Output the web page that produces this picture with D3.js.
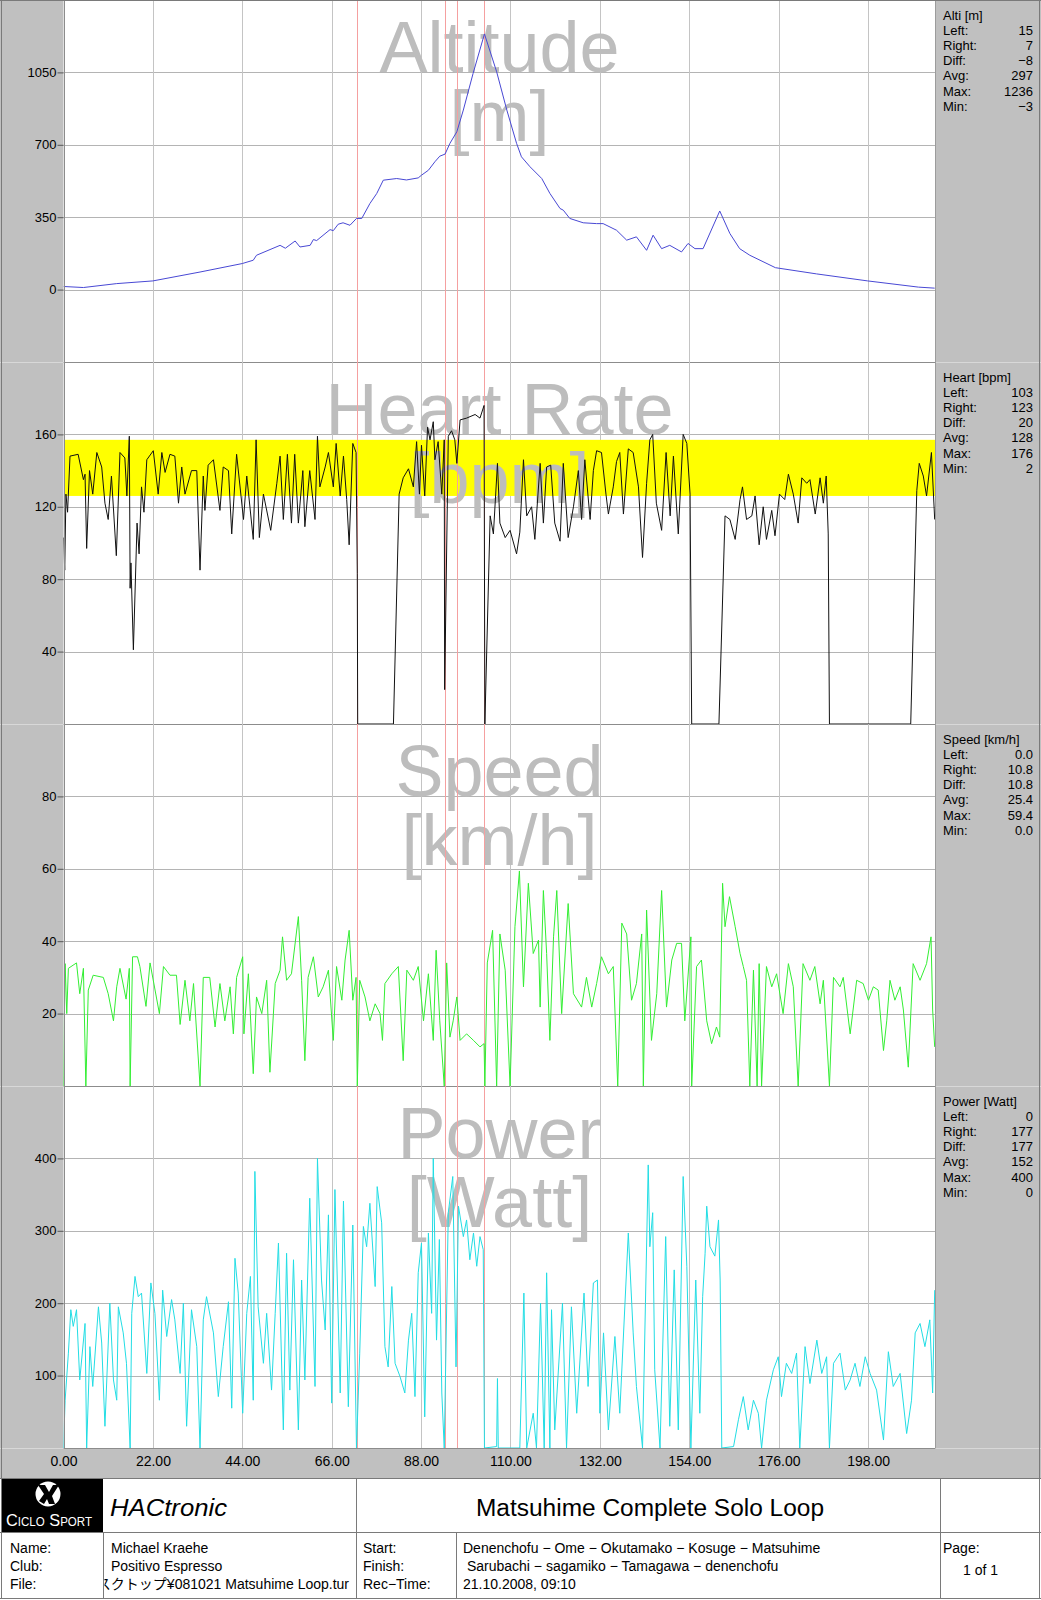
<!DOCTYPE html>
<html>
<head>
<meta charset="utf-8">
<script src="https://cdn.jsdelivr.net/npm/d3@7"></script>
<style>
  html, body { margin: 0; padding: 0; background: #fff; }
  svg { display: block; }
</style>
</head>
<body>
<script>
const width = 1041;
const height = 1600;
const plotLeft = 63.5;
const plotRight = 935.5;
const panelH = 362;
const font = '"Liberation Sans", Arial, "Noto Sans CJK JP", sans-serif';

// ---- data (km, value) ----
const distTicks = [0, 22, 44, 66, 88, 110, 132, 154, 176, 198];
const lapKm = [72.3, 93.9, 96.9, 103.6];

const altitude = [[0,15],[4.9,10],[13.1,29],[22,42],[33.6,85],[44,126],[46.7,142],[47.5,166],[53.3,214],[54.6,200],[57,235],[58.2,206],[60.7,214],[61.5,242],[62.3,237],[65.6,290],[66.4,285],[67.6,316],[68.8,323],[70.5,311],[72.1,344],[73.4,344],[75.4,416],[77.1,465],[78.7,529],[82,537],[84.4,530],[87.3,540],[88.1,553],[89.8,577],[91.4,618],[92.6,645],[93.9,655],[95.1,707],[96.8,763],[98.4,868],[100.8,1045],[103.6,1236],[106.6,1053],[109.1,868],[111.5,707],[112.7,642],[114.8,594],[117.7,537],[119.7,465],[122.2,392],[123,384],[124.6,344],[127.9,323],[131.2,319],[132.8,319],[136.1,287],[138.6,239],[141,255],[143.5,190],[145.1,263],[147.2,198],[149.2,214],[152.1,182],[153.7,223],[155.4,198],[157.4,198],[161.5,380],[164,271],[166.4,198],[168.9,166],[175.2,106],[185.3,76],[197.9,42],[210.4,12],[214.4,7]];

const heartRate = [[0,103],[0.3,85],[0.6,127],[1,117],[1.6,148],[3.6,149],[4.9,135],[5.3,138],[5.7,97],[6.4,140],[7.2,127],[8.2,150],[9.4,142],[10.2,122],[11,113],[11.8,137],[13,93],[13.9,150],[15.1,147],[15.6,126],[16.2,159],[16.4,75],[16.6,89],[17.2,41],[18.1,111],[18.6,94],[19.2,131],[19.8,117],[20.5,146],[22.1,151],[23.3,127],[24.2,150],[25,139],[26.2,149],[27.4,148],[28.3,122],[29.1,142],[29.9,127],[31.5,140],[32.8,140],[33.6,85],[34.4,137],[34.8,118],[35.6,143],[36.9,146],[38.5,118],[39.3,142],[40.6,140],[41.4,105],[42.6,149],[44.3,113],[45.1,137],[46.7,102],[47.4,157],[48.2,103],[49.2,127],[51,107],[52.5,133],[53.3,148],[54.1,113],[55.1,149],[56.1,111],[56.9,149],[57.8,111],[58.9,140],[59.4,109],[60.6,140],[61.9,113],[62.5,159],[63.1,131],[64.4,142],[65.2,150],[66.4,131],[67.1,155],[68.1,126],[68.9,148],[69.7,124],[70.3,99],[71.2,155],[72,150],[72.3,83],[72.4,0],[81.2,0],[82.6,127],[83.6,136],[84.9,141],[86.1,131],[86.9,156],[87.6,127],[88.1,154],[88.9,126],[89.6,164],[90.2,157],[91,167],[91.4,146],[92.2,156],[93.1,127],[93.7,157],[93.8,19],[94.7,159],[95.5,162],[96.3,157],[96.8,144],[97.6,168],[99.2,169],[101.3,171],[102.5,169],[103.5,176],[103.7,0],[105,115],[105.8,105],[106.8,144],[107.4,111],[108.7,103],[109.9,107],[111.5,94],[112.3,106],[113.2,146],[114,115],[115.2,120],[116,102],[117.3,144],[118.1,111],[118.9,142],[119.9,143],[120.9,111],[122.2,101],[123,144],[124.2,103],[125.5,120],[126.7,140],[127.5,113],[128.3,146],[129.6,113],[130.4,140],[131.2,151],[132.4,150],[133.5,127],[134.1,116],[135.3,131],[136.1,145],[136.9,150],[137.8,116],[139,152],[140.2,150],[141.5,131],[142.5,92],[143.5,133],[144.3,157],[145,160],[145.9,122],[147.2,107],[148.3,150],[149.3,115],[150.1,148],[151.3,105],[152.5,160],[153.4,155],[154.2,127],[154.6,0],[161.3,0],[162.8,115],[164,113],[165.3,102],[166.5,124],[167.1,131],[168.1,113],[169.4,115],[170.2,126],[171.2,99],[172.2,120],[173,102],[174.3,118],[175.1,104],[176.2,127],[177.5,124],[178.4,138],[179.6,127],[180.8,111],[181.7,136],[182.9,133],[183.7,135],[185,116],[186.2,136],[187,122],[187.7,137],[188.2,105],[188.5,0],[208.5,0],[210,129],[210.6,144],[211.6,137],[212.4,126],[213.6,150],[214.4,113]];

const speed = [[0,0],[0.4,33.8],[0.8,20],[1.2,32.5],[3.2,34],[4,25.5],[4.9,32.5],[5.5,0],[6.1,26.5],[7.3,30.6],[9.8,30],[11,25.5],[12.3,18],[13.1,27.4],[13.9,32.5],[15.4,24],[16.2,32.5],[16.4,0],[17,35.7],[18.2,35.7],[18.8,33],[20.3,22],[21.3,34],[23.6,20],[24.6,33],[26.2,30.6],[27.8,30.6],[28.7,17],[29.9,29.2],[31.1,18],[32,28.3],[33.6,0],[34.4,30],[36,30],[37.3,16.3],[38.5,28.3],[39.7,18],[41,27.4],[41.8,14.4],[42.6,30],[44.1,35.7],[44.4,14.4],[45.5,31],[46.7,3.4],[47.5,24.6],[48.8,20],[50,29.2],[50.8,3.8],[52.1,28.3],[53.3,32],[53.9,41.2],[54.9,29.2],[56.1,31],[57.8,46.8],[58.6,29.2],[59.4,7],[60.2,30],[61.5,35.7],[62.7,24.6],[63.9,27.4],[65.2,32],[66.4,12.6],[67.2,33],[68.5,23.7],[69.3,34.8],[70.3,43],[71.2,23.7],[72,30],[72.3,0],[72.9,29.2],[74.2,24.6],[75.4,18],[76.7,22.7],[77.9,20],[78.5,12.6],[79.1,28.3],[80.8,31],[82.4,33],[83.6,7],[84.5,32],[86.1,29.2],[87.3,33],[88.6,18],[89.8,31],[91,12.6],[91.7,37.5],[92.6,18],[93.7,0],[94.3,34],[95.1,13.5],[95.9,18],[96.8,24.6],[97.6,12.6],[99.2,14.4],[100.9,12.6],[102.5,10.8],[103.5,11.7],[103.7,0],[104.3,34],[105.6,43],[106.6,0],[107.4,42],[108.7,32],[109.9,0],[111.1,44],[112.2,59.4],[113.2,27.4],[114.4,56],[115.6,36.6],[116.9,40.3],[117.3,21.8],[118.1,54],[118.9,36.6],[119.7,12.6],[120.6,41.2],[121.4,54],[122.6,20],[124.2,50.4],[125.5,25.5],[127.5,21.8],[128.7,30],[130,21.8],[131.2,28.3],[132.4,35.7],[134.1,31],[135.3,33],[136.4,0],[137.4,45],[138.6,42],[139.8,23.7],[141,28.3],[142.3,42],[142.7,0],[143.5,48.6],[144.7,12.6],[146,25.5],[147.2,54],[148.4,21.8],[149.7,34.8],[150.9,39.4],[152.1,39.4],[152.9,18],[154.4,41.2],[154.6,0],[155.8,33],[157,34.8],[158.3,18],[159.5,11.7],[160.7,16.3],[161.5,13.5],[162.2,56],[162.8,44],[163.9,52.3],[165.3,44],[166.5,36.6],[167.3,33],[168.1,29.2],[168.9,0],[169.8,32],[170.7,0],[171.2,33.8],[171.8,0],[173,33],[174.3,27.4],[175.5,31],[177.1,20],[178.4,33.8],[179.6,27.4],[180.8,0],[182,33.8],[183.7,29.2],[184.9,33],[186.2,22.7],[187,29.2],[188.5,0],[189.5,30],[191.1,27.4],[191.9,30],[193.6,14.4],[195.2,29.2],[196.8,28.3],[198.1,23.7],[199.3,27.4],[200.5,26.5],[201.8,9.8],[202.6,18],[203.4,29.2],[204.6,23.7],[205.9,27.4],[206.7,21],[207.9,5.2],[209.1,33.8],[210.8,29.2],[212.4,33.8],[213.5,41.2],[213.9,21],[214.4,10.8]];

const power = [[0,0],[0.4,66],[1.2,131],[1.8,191],[2.4,168],[3.2,191],[4,94],[5.3,172],[5.7,0],[6.5,140],[7.2,85],[8.6,195],[9.4,145],[10.2,30],[11.4,200],[12.3,94],[13.1,66],[13.5,195],[14.7,159],[15.5,117],[16.4,0],[16.8,186],[17.6,237],[18.4,209],[19.2,214],[20.5,103],[21.5,228],[22.5,186],[23.6,66],[24.4,218],[25.4,154],[26.6,205],[27.4,177],[28.7,103],[29.5,200],[30.3,30],[31.5,191],[32.8,140],[33.6,0],[34.4,177],[35.2,209],[36.9,159],[38.1,71],[39.3,140],[40.6,202],[41.4,55],[42.2,262],[43,214],[44.1,48],[45.1,186],[46,237],[46.7,66],[47.1,382],[47.9,195],[49.2,117],[50,186],[51.2,80],[52.1,186],[52.9,283],[54.1,25],[54.9,269],[55.7,80],[56.6,260],[57.8,25],[58.6,232],[59.4,94],[60.6,345],[61.9,85],[62.5,400],[63.5,232],[64.4,163],[65.2,322],[66,62],[66.8,357],[68.1,76],[68.9,341],[70.1,57],[71.2,308],[72.1,0],[72.9,131],[73.8,306],[74.6,278],[75.4,338],[76.7,223],[77.2,361],[78.3,311],[79.1,140],[79.9,112],[80.8,223],[81.6,117],[82.8,99],[84,76],[84.9,149],[85.7,186],[86.5,71],[87.3,242],[88.1,283],[88.9,43],[89.8,297],[90.6,186],[91,400],[91.8,149],[92.5,288],[93.1,76],[93.7,0],[94.7,325],[95.8,375],[96.6,112],[97.2,334],[98.4,292],[99.2,315],[100,260],[100.9,297],[101.7,251],[102.5,292],[103.3,274],[103.6,0],[106.6,2],[106.8,96],[107,0],[112.3,0],[113.3,214],[114,0],[115.6,48],[116.4,0],[117.4,200],[118.3,0],[118.9,242],[119.7,0],[120.1,191],[120.9,25],[122.8,200],[123.8,0],[125,195],[126.3,48],[128.1,214],[129.1,85],[130.4,228],[131.4,232],[132,48],[132.9,159],[134.1,25],[135.7,154],[136.9,48],[139,297],[140.2,159],[141,85],[142.5,0],[143.9,391],[144.3,278],[145,325],[145.5,108],[146.8,0],[148.2,292],[149.2,30],[150.3,246],[151.3,25],[152.5,375],[153.4,251],[154.4,0],[155.6,232],[156.6,48],[157.3,209],[157.9,269],[158.3,334],[159.1,278],[160.3,265],[161.2,315],[161.6,232],[162,0],[164.9,2],[166.1,39],[167.3,71],[168.5,25],[169.8,66],[171,48],[171.8,0],[173,66],[174.7,108],[175.9,126],[176.7,71],[177.9,117],[179.2,103],[180.4,131],[181.2,0],[182.5,140],[183.7,89],[185.4,149],[186.6,103],[187.8,126],[188.5,0],[189.5,117],[191.1,131],[192.4,80],[193.6,94],[194.8,117],[196,85],[197.3,126],[198.5,103],[200.1,80],[201.8,11],[203,133],[204.2,85],[205.9,103],[207.5,20],[208.7,66],[209.6,159],[210.8,172],[212,140],[213.2,177],[213.9,76],[214.4,218]];

const altTicks = [0, 350, 700, 1050];
const hrTicks = [40, 80, 120, 160];
const speedTicks = [20, 40, 60, 80];
const powerTicks = [100, 200, 300, 400];
const hrZone = [126, 157];

const statLabels = ['Left:', 'Right:', 'Diff:', 'Avg:', 'Max:', 'Min:'];
const altStats = ['15', '7', '−8', '297', '1236', '−3'];
const hrStats = ['103', '123', '20', '128', '176', '2'];
const speedStats = ['0.0', '10.8', '10.8', '25.4', '59.4', '0.0'];
const powerStats = ['0', '177', '177', '152', '400', '0'];

const infoLabels = ['Name:', 'Club:', 'File:'];
const infoValues = ['Michael Kraehe', 'Positivo Espresso', 'デスクトップ¥081021 Matsuhime Loop.tur'];
const routeLabels = ['Start:', 'Finish:', 'Rec−Time:'];
const routeValues = ['Denenchofu − Ome − Okutamako − Kosuge − Matsuhime', ' Sarubachi − sagamiko − Tamagawa − denenchofu', '21.10.2008, 09:10'];
const tourTitle = 'Matsuhime Complete Solo Loop';

// ---- chart ----
const panels = [
  { title: 'Altitude', unit: '[m]', head: 'Alti [m]', data: altitude, domain: [-350, 1400], ticks: altTicks, color: '#4848d4', stats: altStats },
  { title: 'Heart Rate', unit: '[bpm]', head: 'Heart [bpm]', data: heartRate, domain: [0, 200], ticks: hrTicks, color: '#111', stats: hrStats, zone: hrZone },
  { title: 'Speed', unit: '[km/h]', head: 'Speed [km/h]', data: speed, domain: [0, 100], ticks: speedTicks, color: '#33ee33', stats: speedStats },
  { title: 'Power', unit: '[Watt]', head: 'Power [Watt]', data: power, domain: [0, 500], ticks: powerTicks, color: '#22dde4', stats: powerStats }
];

const x = d3.scaleLinear().domain([0, 214.6]).range([plotLeft, plotRight]);
const bottomPlot = panels.length * panelH;
const bandBottom = bottomPlot + 30;

const svg = d3.select('body').append('svg')
  .attr('width', width)
  .attr('height', height)
  .attr('font-family', font);

svg.append('rect').attr('width', width).attr('height', height).attr('fill', '#fff');

// gray side panels + x axis band
svg.append('rect').attr('x', 0).attr('y', 0).attr('width', plotLeft).attr('height', bandBottom).attr('fill', '#c0c0c0');
svg.append('rect').attr('x', plotRight).attr('y', 0).attr('width', width - plotRight).attr('height', bandBottom).attr('fill', '#c0c0c0');
svg.append('rect').attr('x', 0).attr('y', bottomPlot).attr('width', width).attr('height', 30).attr('fill', '#c0c0c0');

const px = v => Math.round(v) + 0.5;
const defs = svg.append('defs');

panels.forEach((p, i) => {
  const top = i * panelH;
  const bottom = top + panelH;
  const y = d3.scaleLinear().domain(p.domain).range([bottom, top]);
  const g = svg.append('g');

  defs.append('clipPath').attr('id', `clip${i}`)
    .append('rect').attr('x', plotLeft).attr('y', top).attr('width', plotRight - plotLeft).attr('height', panelH);

  g.selectAll('line.h').data(p.ticks).join('line')
    .attr('x1', plotLeft).attr('x2', plotRight)
    .attr('y1', d => px(y(d))).attr('y2', d => px(y(d)))
    .attr('stroke', '#b4b4b4');

  g.selectAll('line.v').data(distTicks.slice(1)).join('line')
    .attr('x1', d => px(x(d))).attr('x2', d => px(x(d)))
    .attr('y1', top).attr('y2', bottom)
    .attr('stroke', '#c4c4c4');

  if (p.zone) {
    g.append('rect')
      .attr('x', plotLeft + 0.5).attr('width', plotRight - plotLeft - 0.5)
      .attr('y', y(p.zone[1])).attr('height', y(p.zone[0]) - y(p.zone[1]))
      .attr('fill', '#ffff00');
  }

  // big grey watermark, two lines in one text block
  const mid = (plotLeft + plotRight) / 2;
  const wm = g.append('text')
    .attr('text-anchor', 'middle').attr('font-size', 72).attr('fill', '#bdbdbd');
  wm.append('tspan').attr('x', mid).attr('y', top + 72).text(p.title);
  wm.append('tspan').attr('x', mid).attr('y', top + 141).text(p.unit);

  g.selectAll('line.lap').data(lapKm).join('line')
    .attr('x1', d => px(x(d))).attr('x2', d => px(x(d)))
    .attr('y1', top).attr('y2', bottom)
    .attr('stroke', '#f5a0a0');

  const line = d3.line()
    .x(d => x(d[0]))
    .y(d => y(d[1]));

  g.append('path')
    .datum(p.data)
    .attr('clip-path', `url(#clip${i})`)
    .attr('fill', 'none')
    .attr('stroke', p.color)
    .attr('stroke-width', 1)
    .attr('stroke-linejoin', 'round')
    .attr('d', line);

  // separator under the panel
  g.append('line')
    .attr('x1', plotLeft).attr('x2', plotRight)
    .attr('y1', px(bottom)).attr('y2', px(bottom))
    .attr('stroke', '#8c8c8c');
  g.append('line')
    .attr('x1', 0).attr('x2', plotLeft)
    .attr('y1', px(bottom)).attr('y2', px(bottom))
    .attr('stroke', '#d8d8d8');
  g.append('line')
    .attr('x1', plotRight).attr('x2', width)
    .attr('y1', px(bottom)).attr('y2', px(bottom))
    .attr('stroke', '#d8d8d8');

  g.append('g')
    .attr('transform', `translate(${plotLeft},0)`)
    .call(d3.axisLeft(y).tickValues(p.ticks).tickFormat(d3.format('d')).tickSize(6).tickPadding(1))
    .call(a => a.select('.domain').remove())
    .call(a => a.selectAll('.tick line').attr('stroke', '#555'))
    .attr('font-family', font)
    .attr('font-size', 13);

  // stats box on the right
  const sx = 943;
  g.append('text').attr('x', sx).attr('y', top + 19.5).attr('font-size', 13).text(p.head);
  statLabels.forEach((lab, j) => {
    g.append('text').attr('x', sx).attr('y', top + 34.7 + j * 15.2).attr('font-size', 13).text(lab);
    g.append('text').attr('x', 1033).attr('y', top + 34.7 + j * 15.2).attr('font-size', 13)
      .attr('text-anchor', 'end').text(p.stats[j]);
  });
});

// plot frame
svg.append('line').attr('x1', px(plotLeft)).attr('x2', px(plotLeft)).attr('y1', 0).attr('y2', bottomPlot).attr('stroke', '#8c8c8c');
svg.append('line').attr('x1', plotRight).attr('x2', plotRight).attr('y1', 0).attr('y2', bottomPlot).attr('stroke', '#9c9c9c');

// distance axis
svg.append('g')
  .attr('transform', `translate(0,${bottomPlot})`)
  .call(d3.axisBottom(x).tickValues(distTicks).tickFormat(d3.format('.2f')).tickSize(0).tickPadding(8))
  .call(a => a.select('.domain').remove())
  .attr('font-family', font)
  .attr('font-size', 14);

// ---- footer ----
const foot = svg.append('g').attr('font-family', font);
const rule = (x1, y1, x2, y2) => foot.append('line')
  .attr('x1', x1).attr('y1', y1).attr('x2', x2).attr('y2', y2)
  .attr('stroke', '#7a7a7a');

rule(0, bandBottom + 0.5, width, bandBottom + 0.5);
rule(0, 1532.5, width, 1532.5);
rule(0, 1598.5, width, 1598.5);
rule(356.5, bandBottom, 356.5, 1599);
rule(940.5, bandBottom, 940.5, 1599);
rule(103.5, 1532, 103.5, 1599);
rule(456.5, 1532, 456.5, 1599);
rule(1.5, 0, 1.5, 1599);
rule(1039.5, 0, 1039.5, 1599);
rule(0, 0.5, width, 0.5);

// logo
foot.append('rect').attr('x', 2).attr('y', bandBottom + 1).attr('width', 101).attr('height', 1532 - bandBottom - 1).attr('fill', '#000');
foot.append('circle').attr('cx', 48).attr('cy', 1494).attr('r', 12.5).attr('fill', '#fff');
foot.append('path')
  .attr('d', 'M38,1485 L45,1485 L49,1492 L53,1485 L59,1485 L52,1496 L55,1504 L49,1504 L47,1499 L44,1504 L39,1501 L44,1494 Z')
  .attr('fill', '#000');
foot.append('text').attr('x', 6).attr('y', 1526)
  .attr('fill', '#fff').attr('font-size', 17)
  .attr('font-variant', 'small-caps')
  .attr('textLength', 86).attr('lengthAdjust', 'spacingAndGlyphs')
  .text('Ciclo Sport');

foot.append('text').attr('x', 110).attr('y', 1516)
  .attr('font-size', 24).attr('font-style', 'italic')
  .attr('textLength', 117).attr('lengthAdjust', 'spacingAndGlyphs')
  .text('HACtronic');

foot.append('text').attr('x', 650).attr('y', 1516)
  .attr('font-size', 23).attr('text-anchor', 'middle')
  .attr('textLength', 348).attr('lengthAdjust', 'spacingAndGlyphs')
  .text(tourTitle);

const rowY = [1553, 1571, 1589];
infoLabels.forEach((t, j) => foot.append('text').attr('x', 10).attr('y', rowY[j]).attr('font-size', 14).text(t));
routeLabels.forEach((t, j) => foot.append('text').attr('x', 363).attr('y', rowY[j]).attr('font-size', 14).text(t));
routeValues.forEach((t, j) => foot.append('text').attr('x', 463).attr('y', rowY[j]).attr('font-size', 14).style('white-space', 'pre').text(t));

defs.append('clipPath').attr('id', 'fileclip')
  .append('rect').attr('x', 104.5).attr('y', 1533).attr('width', 251).attr('height', 66);
infoValues.forEach((t, j) => {
  const el = foot.append('text').attr('y', rowY[j]).attr('font-size', 14).text(t);
  if (j === 2) {
    el.attr('x', 349).attr('text-anchor', 'end').attr('clip-path', 'url(#fileclip)');
  } else {
    el.attr('x', 111);
  }
});

foot.append('text').attr('x', 943).attr('y', 1553).attr('font-size', 14).text('Page:');
foot.append('text').attr('x', 963).attr('y', 1575).attr('font-size', 14).text('1 of 1');
</script>
</body>
</html>
